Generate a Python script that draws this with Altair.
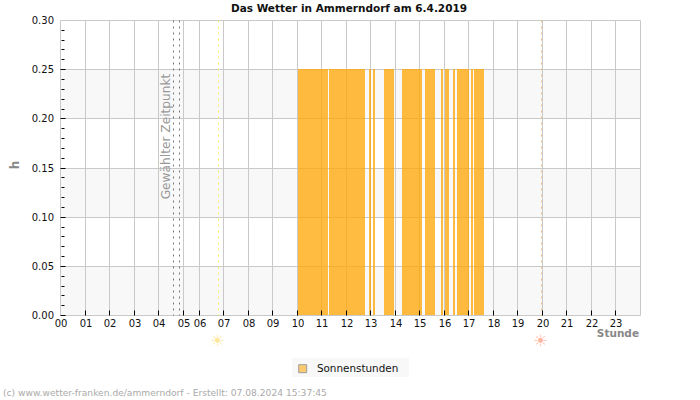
import altair as alt
import pandas as pd

# Hour labels and their sample positions (the series has a gap around 05-06)
hour_labels = ["00","01","02","03","04","05","06","07","08","09","10","11",
               "12","13","14","15","16","17","18","19","20","21","22","23"]
hour_pos = [0,12,24,36,48,60,68,80,92,104,116,128,140,152,164,176,188,200,212,224,236,248,260,272]

# Sunshine runs in sample positions
run_start = [116.3,131.7,151.3,153.3,158.7,167.5,178.7,186.6,188.5,192.5,194.4,201.3,202.7]
run_end   = [131.0,149.4,152.3,154.3,163.6,177.3,183.6,187.6,190.5,193.4,200.3,202.3,207.6]
run_value = [0.25]*13

y_major = [0.00,0.05,0.10,0.15,0.20,0.25,0.30]
y_minor = [0.01,0.02,0.03,0.04,0.06,0.07,0.08,0.09,0.11,0.12,0.13,0.14,
           0.16,0.17,0.18,0.19,0.21,0.22,0.23,0.24,0.26,0.27,0.28,0.29]
band_low = [0.00,0.10,0.20]
band_high = [0.05,0.15,0.25]

selected_marks = [55.5,58.4]
sunrise = 77.5
sunset = 235.4

FONT = "DejaVu Sans"
x_scale = alt.Scale(domain=[0,284], nice=False, zero=False, round=True)
y_scale = alt.Scale(domain=[0,0.30], nice=False, round=True)
label_expr = "{" + ",".join(f"'{p}':'{l}'" for p,l in zip(hour_pos,hour_labels)) + "}[datum.value]"

# Rectangles sit back on whole pixels; rules stay on pixel centres
CRISP = dict(xOffset=-0.5, x2Offset=-0.5, yOffset=-0.5, y2Offset=-0.5)

X = alt.X("x:Q", scale=x_scale, title=None,
          axis=alt.Axis(values=hour_pos, labelExpr=label_expr, grid=False, ticks=False, domain=False,
                        labelFont=FONT, labelFontSize=10, labelColor="#111", labelPadding=3,
                        labelOverlap=False, labelFlush=False, labelAngle=0))
Y = alt.Y("y:Q", scale=y_scale, title=None,
          axis=alt.Axis(values=y_major, format=".2f", grid=False, ticks=False, domain=False,
                        labelFont=FONT, labelFontSize=10, labelColor="#111", labelPadding=7))

bands = alt.Chart(pd.DataFrame({"y":band_low,"y2":band_high})).mark_rect(color="#f8f8f8", **CRISP).encode(
    y=Y, y2="y2:Q", x=alt.value(0), x2=alt.value(580))

grid_h = alt.Chart(pd.DataFrame({"y":y_major})).mark_rule(color="#c9c9c9", strokeWidth=1).encode(
    y=Y, x=alt.value(0), x2=alt.value(580))
grid_v = alt.Chart(pd.DataFrame({"x":hour_pos})).mark_rule(color="#c9c9c9", strokeWidth=1).encode(
    x=X, y=alt.value(0), y2=alt.value(295))
frame_right = alt.Chart(pd.DataFrame({"k":[0]})).mark_rule(color="#c9c9c9", strokeWidth=1).encode(
    x=alt.value(580), y=alt.value(0), y2=alt.value(295))

bars = alt.Chart(pd.DataFrame({
    "x":run_start,"x2":run_end,"y":run_value,"name":["Sonnenstunden"]*len(run_start)
})).mark_rect(opacity=0.75, **CRISP).encode(
    x=X, x2="x2:Q", y=Y, y2=alt.datum(0),
    color=alt.Color("name:N", scale=alt.Scale(domain=["Sonnenstunden"], range=["#ffa500"]),
        legend=alt.Legend(title=None, orient="none", legendX=232, legendY=338,
                          padding=5, symbolType="square", symbolSize=64, symbolStrokeColor="#555",
                          symbolStrokeWidth=1, symbolOpacity=0.55, labelFont=FONT, labelFontSize=10.4,
                          labelColor="#111", labelOffset=9)))

# Panel behind the legend entry
legend_panel = alt.Chart(pd.DataFrame({"k":[0]})).mark_rect(color="#f8f8f8", **CRISP).encode(
    x=alt.value(232), x2=alt.value(349), y=alt.value(338), y2=alt.value(357))

tick_x = alt.Chart(pd.DataFrame({"x":hour_pos[1:]})).mark_rule(color="#000").encode(
    x=X, y=alt.value(290), y2=alt.value(295))
tick_y = alt.Chart(pd.DataFrame({"y":y_major[:-1]})).mark_rule(color="#000").encode(
    y=Y, x=alt.value(0), x2=alt.value(5))
tick_minor = alt.Chart(pd.DataFrame({"y":y_minor})).mark_rule(color="#000").encode(
    y=Y, x=alt.value(1), x2=alt.value(4))

def vline(xs, color, dash):
    return alt.Chart(pd.DataFrame({"x":xs})).mark_rule(color=color, strokeDash=dash, strokeWidth=1).encode(
        x=X, y=alt.value(0), y2=alt.value(295))

lines = vline(selected_marks, "#777", [2,4]) + vline([sunrise], "#f5ee5a", [2,4]) + vline([sunset], "#f5c07a", [2,4])

selected_text = alt.Chart(pd.DataFrame({"x":[51.5],"y":[0.182],"t":["Gewählter Zeitpunkt"]})).mark_text(
    angle=270, font=FONT, fontSize=12.2, color="#999", align="center", baseline="middle").encode(
    x=X, y=Y, text="t:N")

suns = alt.Chart(pd.DataFrame({"x":[sunrise-0.6,sunset-0.6],"c":["#fde79a","#ffb7a1"],"t":["☀","☀"]})).mark_text(
    font=FONT, fontSize=16, baseline="middle").encode(
    x=X, y=alt.value(320.5), text="t:N",
    color=alt.Color("c:N", scale=None, legend=None))

def label(text, x, y, **kw):
    return alt.Chart(pd.DataFrame({"t":[text]})).mark_text(font=FONT, **kw).encode(
        x=alt.value(x), y=alt.value(y), text="t:N")

heading = label("Das Wetter in Ammerndorf am 6.4.2019", 288.5, -11.5, fontSize=10.5, fontWeight="bold",
                color="#111", align="center", baseline="middle")
stunde = label("Stunde", 578.5, 313.5, fontSize=10.5, fontWeight="bold", color="#888", align="right", baseline="middle")
h_title = label("h", -45.5, 144.5, fontSize=12, fontWeight="bold", color="#888", angle=270, align="center", baseline="middle")
footer = label("(c) www.wetter-franken.de/ammerndorf - Erstellt: 07.08.2024 15:37:45", -57.5, 372.5,
               fontSize=9.15, color="#aaa", align="left", baseline="middle")

chart = alt.layer(
    legend_panel, bands, grid_h, grid_v, frame_right, bars, lines, tick_x, tick_y, tick_minor,
    selected_text, suns, heading, stunde, h_title, footer
).resolve_scale(color="independent").properties(
    width=580, height=295,
    autosize=alt.AutoSizeParams(type="none"),
    padding={"left":60.5,"top":20.5,"right":59.5,"bottom":84.5},
    background="white",
).configure_view(stroke=None)

chart.save("out.html", embed_options={"renderer": "svg", "actions": False})
